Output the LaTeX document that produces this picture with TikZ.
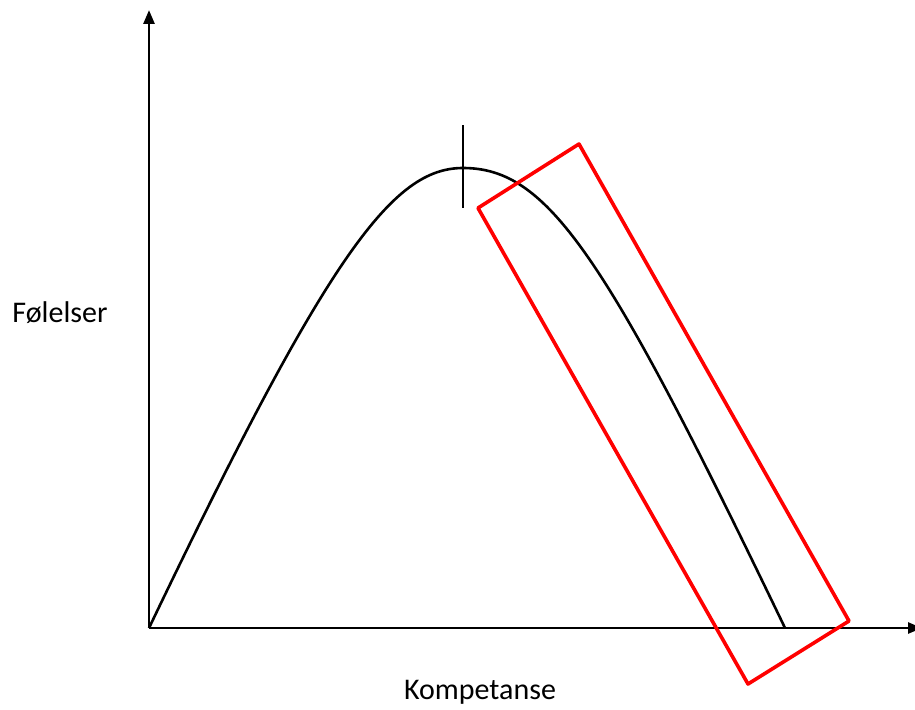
\documentclass[tikz,border=0pt]{standalone}
\usepackage{fontspec}
\setmainfont{Carlito}
\usetikzlibrary{arrows.meta}
\begin{document}
\begin{tikzpicture}[x=1pt,y=-1pt,line join=round]
  \useasboundingbox (0,0) rectangle (915,709);
  % axes
  \coordinate (o) at (149,628);
  \coordinate (ytop) at (149,10);
  \coordinate (xend) at (922,628);
  \draw[line width=2.6pt,-{Triangle[length=14pt,width=11pt]}] (o) -- (ytop);
  \draw[line width=2.6pt,-{Triangle[length=14pt,width=11pt]}] (o) -- (xend);
  \node[font=\fontsize{30}{35}\selectfont] (folelser) at (60,313) {Følelser};
  \node[font=\fontsize{30}{35}\selectfont] (kompetanse) at (480,692) {Kompetanse};
  % curve and peak mark
  \coordinate (peak) at (463,168);
  \coordinate (end) at (785,628);
  \draw[line width=2.6pt] (o) .. controls (329,252) and (393,168) .. (peak)
    .. controls (548,168) and (605,254) .. (end);
  \coordinate (ttop) at (463,125);
  \coordinate (tbot) at (463,208);
  \draw[line width=2.6pt] (ttop) -- (tbot);
  % red box
  \draw[red,line width=3.6pt] (478,208) -- (579,144) -- (849,621) -- (748,684) -- cycle;
\end{tikzpicture}
\end{document}
